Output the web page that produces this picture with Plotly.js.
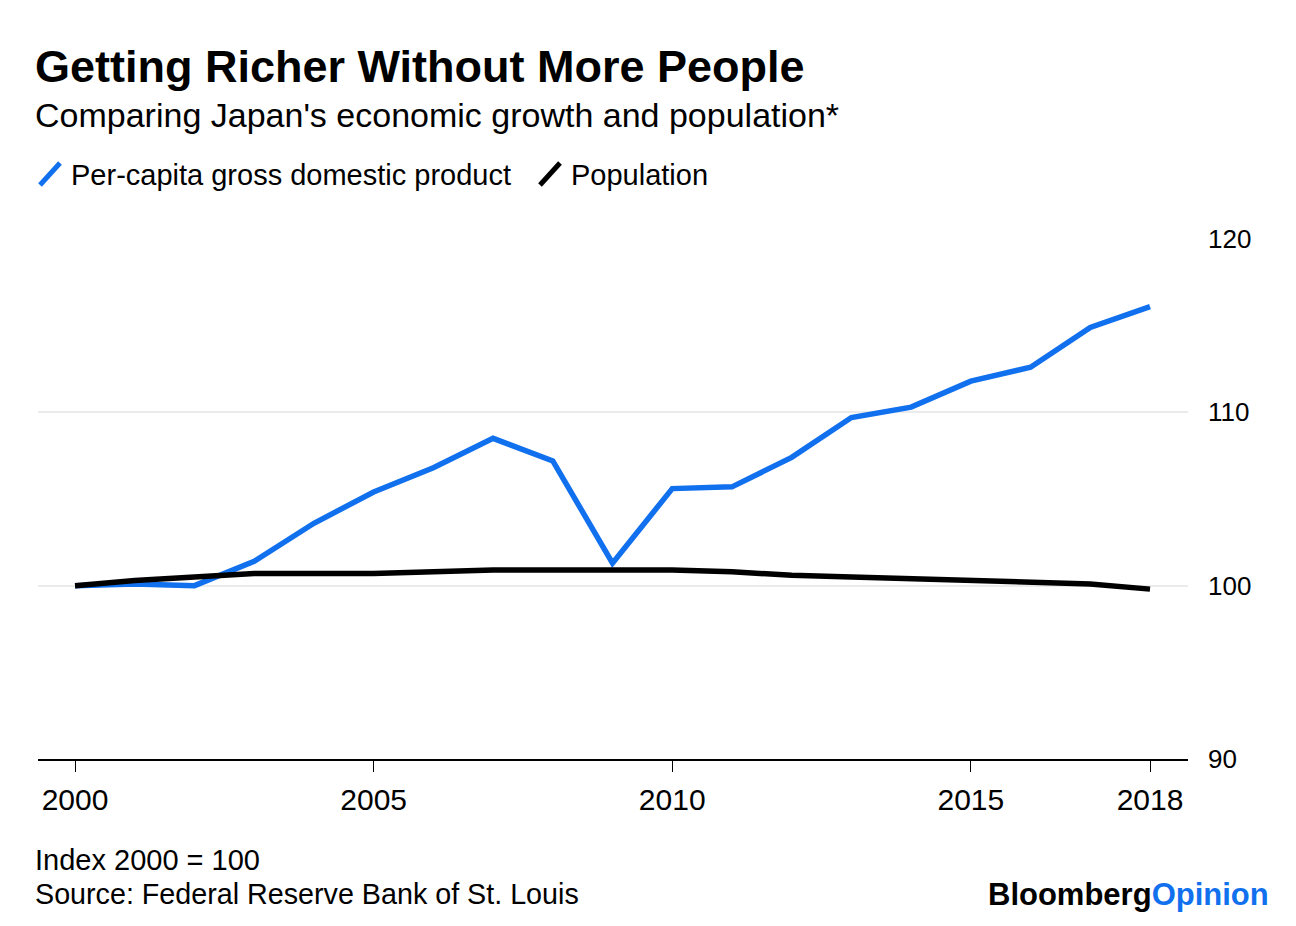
<!DOCTYPE html>
<html>
<head>
<meta charset="utf-8">
<script src="https://cdn.plot.ly/plotly-3.0.1.min.js"></script>
<style>html,body{margin:0;padding:0;background:#fff;}#chart{width:1296px;height:926px;}</style>
</head>
<body>
<div id="chart"></div>
<script>
var years = [2000,2001,2002,2003,2004,2005,2006,2007,2008,2009,2010,2011,2012,2013,2014,2015,2016,2017,2018];
var gdpPerCapita = [100,100.1,100,101.4,103.6,105.4,106.8,108.5,107.2,101.3,105.6,105.7,107.4,109.7,110.3,111.8,112.6,114.9,116.1];
var population = [100,100.3,100.5,100.7,100.7,100.7,100.8,100.9,100.9,100.9,100.9,100.8,100.6,100.5,100.4,100.3,100.2,100.1,99.8];
var xTicks = [2000,2005,2010,2015,2018];
var yTicks = [90,100,110,120];
var seriesNames = ["Per-capita gross domestic product","Population"];

var BLUE = "#1170ee";
var FONT = "Liberation Sans, Arial, Helvetica, sans-serif";
var W = 1296, H = 926, L = 38, R = 1188, T = 239, B = 759;
function px(x){ return (x - L) / (R - L); }
function py(y){ return (B - y) / (B - T); }

var traces = [
  {x: years, y: gdpPerCapita, type: "scatter", mode: "lines", name: seriesNames[0],
   line: {color: BLUE, width: 5.5}, showlegend: false, hoverinfo: "x+y"},
  {x: years, y: population, type: "scatter", mode: "lines", name: seriesNames[1],
   line: {color: "#000", width: 5.5}, showlegend: false, hoverinfo: "x+y"}
];

var layout = {
  width: W, height: H,
  paper_bgcolor: "#fff", plot_bgcolor: "#fff",
  margin: {l: L, r: W - R, t: T, b: H - B, pad: 0},
  font: {family: FONT, color: "#000", size: 22},
  xaxis: {
    range: [1999.380, 2018.636], tickvals: xTicks, ticktext: xTicks.map(String),
    showgrid: false, zeroline: false, showline: true, linecolor: "#000", linewidth: 2,
    ticks: "outside", ticklen: 11, tickwidth: 1, tickcolor: "#000", ticklabelstandoff: 2,
    tickfont: {family: FONT, size: 30, color: "#000"}, fixedrange: true
  },
  yaxis: {
    range: [90, 120], tickvals: yTicks, ticktext: yTicks.map(String), side: "right",
    showgrid: true, gridcolor: "#ebebeb", gridwidth: 2, zeroline: false, showline: false,
    ticks: "", ticklabelstandoff: 19,
    tickfont: {family: FONT, size: 26, color: "#000"}, fixedrange: true
  },
  showlegend: false,
  shapes: [
    {type: "line", xref: "paper", yref: "paper", x0: px(40), x1: px(60), y0: py(185), y1: py(163),
     line: {color: BLUE, width: 5}},
    {type: "line", xref: "paper", yref: "paper", x0: px(540), x1: px(560), y0: py(185), y1: py(163),
     line: {color: "#000", width: 5}}
  ],
  annotations: [
    {text: "<b>Getting Richer Without More People</b>", xref: "paper", yref: "paper",
     x: px(33), y: py(66), xanchor: "left", yanchor: "middle", showarrow: false,
     font: {family: FONT, size: 45, color: "#000"}},
    {text: "Comparing Japan's economic growth and population*", xref: "paper", yref: "paper",
     x: px(33), y: py(115), xanchor: "left", yanchor: "middle", showarrow: false,
     font: {family: FONT, size: 34, color: "#000"}},
    {text: seriesNames[0], xref: "paper", yref: "paper",
     x: px(69), y: py(175), xanchor: "left", yanchor: "middle", showarrow: false,
     font: {family: FONT, size: 29, color: "#000"}},
    {text: seriesNames[1], xref: "paper", yref: "paper",
     x: px(569), y: py(175), xanchor: "left", yanchor: "middle", showarrow: false,
     font: {family: FONT, size: 29, color: "#000"}},
    {text: "Index 2000 = 100", xref: "paper", yref: "paper",
     x: px(33), y: py(860), xanchor: "left", yanchor: "middle", showarrow: false,
     font: {family: FONT, size: 29, color: "#000"}},
    {text: "Source: Federal Reserve Bank of St. Louis", xref: "paper", yref: "paper",
     x: px(33), y: py(894), xanchor: "left", yanchor: "middle", showarrow: false,
     font: {family: FONT, size: 28.7, color: "#000"}},
    {text: "<b>Bloomberg<span style=\"color:" + BLUE + "\">Opinion</span></b>", xref: "paper", yref: "paper",
     x: px(1271), y: py(894), xanchor: "right", yanchor: "middle", showarrow: false,
     font: {family: FONT, size: 31, color: "#000"}}
  ]
};

Plotly.newPlot("chart", traces, layout, {displayModeBar: false, staticPlot: true});
</script>
</body>
</html>
